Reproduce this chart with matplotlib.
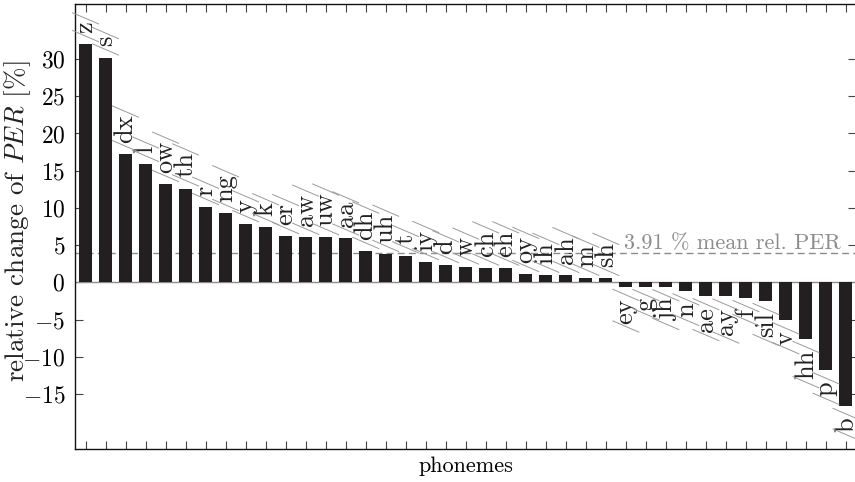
import matplotlib
matplotlib.use("Agg")
import matplotlib.pyplot as plt
from matplotlib.lines import Line2D
import numpy as np

plt.rcParams["font.family"] = "serif"
plt.rcParams["font.serif"] = ["cmr10", "DejaVu Serif"]
plt.rcParams["mathtext.fontset"] = "cm"
plt.rcParams["axes.unicode_minus"] = False

phonemes = ["z", "s", "dx", "l", "ow", "th", "r", "ng", "y", "k", "er", "aw",
            "uw", "aa", "dh", "uh", "t", "iy", "d", "w", "ch", "eh", "oy", "ih",
            "ah", "m", "sh", "ey", "g", "jh", "n", "ae", "ay", "f", "sil", "v",
            "hh", "p", "b"]
rel_change = [32.0, 30.2, 17.2, 15.9, 13.2, 12.6, 10.1, 9.3, 7.8, 7.4, 6.2, 6.1,
              6.05, 6.0, 4.2, 3.8, 3.6, 2.7, 2.3, 2.1, 1.96, 1.95, 1.1, 1.0,
              0.98, 0.6, 0.58, -0.6, -0.62, -0.65, -1.2, -1.85, -1.9, -2.1, -2.5,
              -5.1, -7.6, -11.8, -16.6]
mean_per = 3.91
y_ticks = [-15, -10, -5, 0, 5, 10, 15, 20, 25, 30]

W, H = 855, 482
fig = plt.figure(figsize=(W / 100, H / 100), dpi=100)
ax = fig.add_axes([75 / W, 1 - 449 / H, 781 / W, 445 / H])

x = np.arange(len(phonemes))
ax.bar(x, rel_change, width=0.65, color="#231f20", edgecolor="none", zorder=3)
ax.axhline(0, color="#8c8c8c", lw=1.0, zorder=2)
ax.axhline(mean_per, color="#8c8c8c", lw=1.0, ls=(0, (5, 3)), zorder=2)
ax.text(37.75, mean_per, f"{mean_per} % mean rel. PER", color="#8c8c8c",
        fontsize=16, ha="right", va="bottom",
        transform=ax.transData)

ax.set_xlim(-0.525, 38.5)
ax.set_ylim(-22.4, 37.4)

ax.set_xticks(x)
ax.set_xticklabels([])
ax.set_yticks(y_ticks)
ax.set_yticklabels([f"${v}$" if v >= 0 else f"$-{abs(v)}$" for v in y_ticks])
ax.tick_params(axis="x", which="both", direction="in", top=True, bottom=True,
               length=6, width=0.8, color="#444444")
ax.tick_params(axis="y", which="both", direction="in", left=True, right=True,
               length=6, width=0.8, color="#444444", labelsize=17, pad=7)
for side in ("left", "bottom", "top", "right"):
    ax.spines[side].set_linewidth(1.0)
    ax.spines[side].set_color("#111111")

ax.set_ylabel("relative change of $PER$ [%]", fontsize=19.5, color="#222222")
ax.yaxis.set_label_coords(-0.073, 0.512)
ax.yaxis.label.set_va("center")
ax.set_xlabel("phonemes", fontsize=16)
ax.xaxis.set_label_coords(0.5, -0.038)
ax.xaxis.label.set_va("center")

# phoneme names above positive bars and below negative ones
labels = []
for xi, (name, v) in enumerate(zip(phonemes, rel_change)):
    off = 8.0 if v >= 0 else -8.0
    t = ax.annotate(name, xy=(xi, v), xytext=(0, off), textcoords="offset points",
                    rotation=90, ha="center", va="bottom" if v >= 0 else "top",
                    fontsize=19, color="#222222", zorder=4)
    labels.append(t)

# slanted rules framing each name
fig.canvas.draw()
renderer = fig.canvas.get_renderer()
slope = 0.43
half = 13.0
for xi, t in zip(x, labels):
    bb = t.get_window_extent(renderer)
    cx = ax.transData.transform((xi, 0))[0]
    for yc in (bb.y1 + 3.0, bb.y0 - 3.0):
        xs = [cx - half, cx + half]
        ys = [yc + slope * half, yc - slope * half]
        fig.add_artist(Line2D([v / W for v in xs], [v / H for v in ys],
                              transform=fig.transFigure, color="#9a9a9a",
                              lw=0.7, zorder=5))

fig.savefig("out.png", dpi=100)
